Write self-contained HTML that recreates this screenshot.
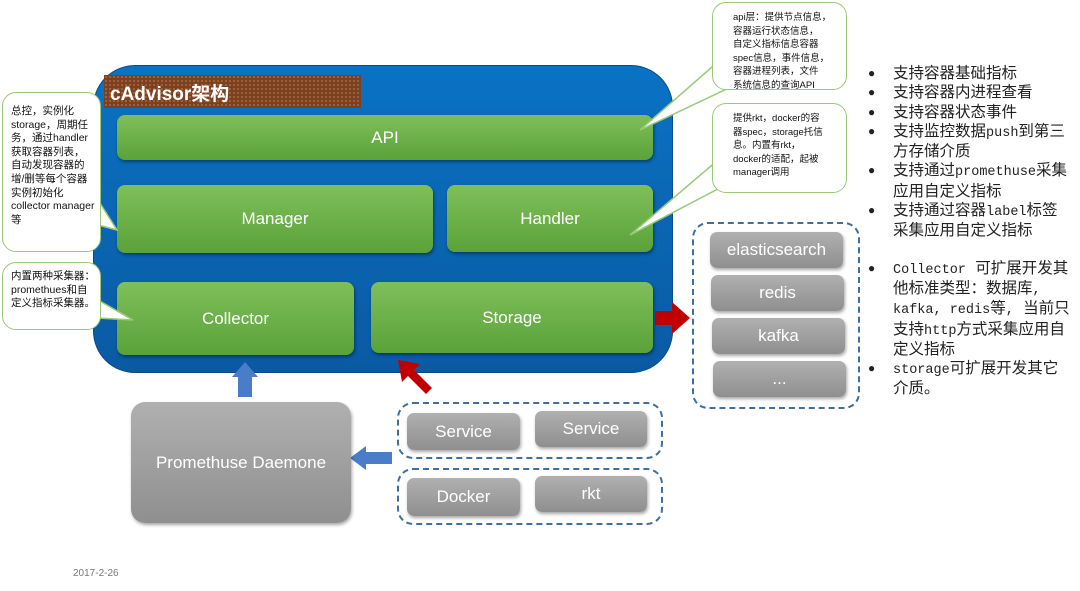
<!DOCTYPE html><html><head><meta charset="utf-8"><style>
body{margin:0;width:1080px;height:591px;background:#fff;position:relative;overflow:hidden;font-family:"Liberation Sans","Noto Sans CJK SC",sans-serif}
div{position:absolute;box-sizing:border-box}
.g{background:linear-gradient(#7fbf5a,#5aa23a);border-radius:8px;color:#fff;font-size:17px;display:flex;align-items:center;justify-content:center;box-shadow:1px 2px 3px rgba(0,0,0,.4)}
.gr{background:linear-gradient(#b0b0b0,#8f8f8f);border-radius:7px;color:#fff;font-size:17px;display:flex;align-items:center;justify-content:center;box-shadow:1px 2px 3px rgba(0,0,0,.35)}
.co{background:#fff;border:1.5px solid #9bc97a;border-radius:14px;font-size:10.5px;line-height:13.5px;color:#111;padding:6px 8px;white-space:nowrap}
.dash{border:2px dashed #3f6f9f;border-radius:16px}
.b{font-size:15.5px;line-height:19.3px;color:#222;font-family:"Liberation Mono","Noto Sans CJK SC",monospace;white-space:nowrap}
.b p{margin:0;padding-left:25px;position:relative}
.b p:before{content:"●";position:absolute;left:0;font-size:12px}
.m{font-size:13.5px}
</style></head><body>
<div style="left:93px;top:65px;width:580px;height:308px;border-radius:42px;background:linear-gradient(#0a72c4,#0a5aa2);border:1px solid #0a4a8a"></div>
<div style="left:104px;top:75px;width:257px;height:33px;background:#7a4020;background-image:radial-gradient(#a0603a 1px,transparent 1.3px);background-size:4px 4px;color:#fff;font-weight:bold;font-size:19px;padding:4px 6px">cAdvisor架构</div>
<div class="g" style="left:117px;top:115px;width:536px;height:45px">API</div>
<div class="g" style="left:117px;top:185px;width:316px;height:68px">Manager</div>
<div class="g" style="left:447px;top:185px;width:206px;height:67px">Handler</div>
<div class="g" style="left:117px;top:282px;width:237px;height:73px">Collector</div>
<div class="g" style="left:371px;top:282px;width:282px;height:71px">Storage</div>
<svg style="position:absolute;left:0;top:0" width="1080" height="591">
<polygon points="98,200 117,230 98,225" fill="#fff" stroke="#9bc97a" stroke-width="1.5"/>
<polygon points="98,300 133,320 98,318" fill="#fff" stroke="#9bc97a" stroke-width="1.5"/>
<polygon points="720,60 640,130 735,85" fill="#fff" stroke="#9bc97a" stroke-width="1.5"/>
<polygon points="718,160 630,235 735,180" fill="#fff" stroke="#9bc97a" stroke-width="1.5"/>
<polygon points="655,311 672,311 672,302 690,318 672,334 672,325 655,325" fill="#c00000"/>
<polygon points="238,397 238,377 232,377 245,362 258,377 252,377 252,397" fill="#4a7cc8"/>
<polygon points="392,452 366,452 366,446 350,458 366,470 366,464 392,464" fill="#4a7cc8"/>
<polygon points="432,388 414,370 420,364 398,360 402,382 408,376 426,394" fill="#c00000"/>
</svg>
<div class="co" style="left:2px;top:92px;width:99px;height:160px;padding:12px 4px 4px 8px;font-size:10.5px;line-height:13.6px">总控，实例化<br>storage，周期任<br>务，通过handler<br>获取容器列表，<br>自动发现容器的<br>增/删等每个容器<br>实例初始化<br>collector manager<br>等</div>
<div class="co" style="left:2px;top:262px;width:99px;height:68px;padding:7px 4px 4px 8px;font-size:10.5px;line-height:13.6px">内置两种采集器：<br>promethues和自<br>定义指标采集器。</div>
<div class="co" style="left:712px;top:2px;width:135px;height:88px;padding:8px 4px 4px 20px;font-size:9.5px;line-height:13.5px">api层：提供节点信息，<br>容器运行状态信息，<br>自定义指标信息容器<br>spec信息，事件信息，<br>容器进程列表，文件<br>系统信息的查询API</div>
<div class="co" style="left:712px;top:103px;width:135px;height:90px;padding:8px 4px 4px 20px;font-size:9.5px;line-height:13.5px">提供rkt，docker的容<br>器spec，storage托信<br>息。内置有rkt，<br>docker的适配，起被<br>manager调用</div>
<div class="dash" style="left:692px;top:222px;width:168px;height:187px"></div>
<div class="gr" style="left:710px;top:232px;width:133px;height:36px">elasticsearch</div>
<div class="gr" style="left:711px;top:275px;width:133px;height:36px">redis</div>
<div class="gr" style="left:712px;top:318px;width:133px;height:36px">kafka</div>
<div class="gr" style="left:713px;top:361px;width:133px;height:36px">...</div>
<div class="gr" style="left:131px;top:402px;width:220px;height:121px;border-radius:14px">Promethuse Daemone</div>
<div class="dash" style="left:397px;top:402px;width:266px;height:57px"></div>
<div class="dash" style="left:397px;top:468px;width:266px;height:57px"></div>
<div class="gr" style="left:407px;top:413px;width:113px;height:37px">Service</div>
<div class="gr" style="left:535px;top:411px;width:112px;height:36px">Service</div>
<div class="gr" style="left:407px;top:478px;width:113px;height:38px">Docker</div>
<div class="gr" style="left:535px;top:476px;width:112px;height:36px">rkt</div>
<div style="left:73px;top:568px;font-size:10px;color:#777">2017-2-26</div>
<div class="b" style="left:868px;top:65px;width:212px">
<p>支持容器基础指标</p><p>支持容器内进程查看</p><p>支持容器状态事件</p><p>支持监控数据<span class="m">push</span>到第三<br>方存储介质</p><p>支持通过<span class="m">promethuse</span>采集<br>应用自定义指标</p><p>支持通过容器<span class="m">label</span>标签<br>采集应用自定义指标</p>
<p style="margin-top:18px"><span class="m">Collector</span> 可扩展开发其<br>他标准类型：数据库<span class="m">,</span><br><span class="m">kafka, redis</span>等<span class="m">,</span> 当前只<br>支持<span class="m">http</span>方式采集应用自<br>定义指标</p><p><span class="m">storage</span>可扩展开发其它<br>介质。</p></div>
</body></html>
